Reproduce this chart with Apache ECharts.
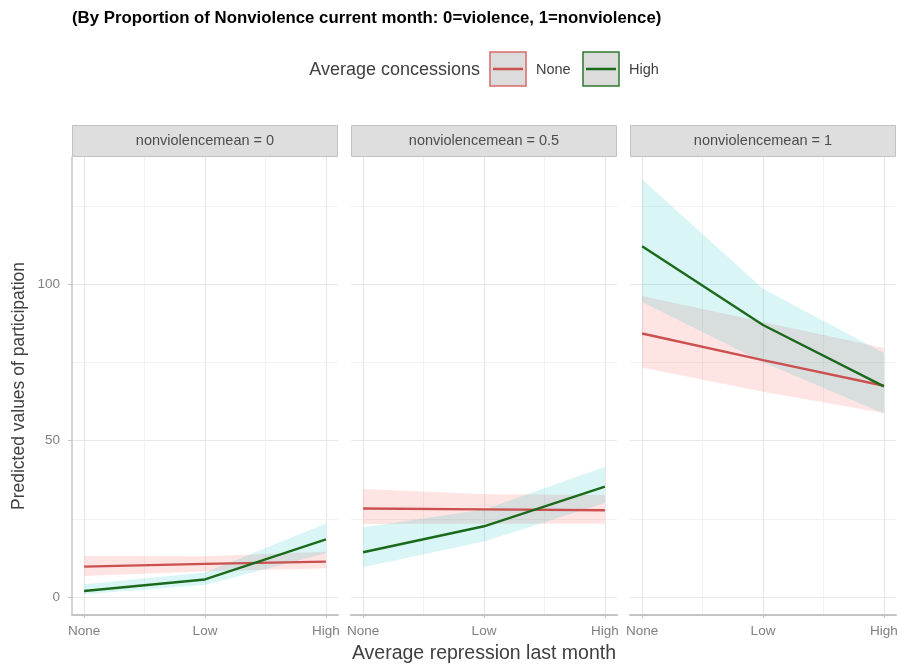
<!DOCTYPE html>
<html>
<head>
<meta charset="utf-8">
<script src="https://cdn.jsdelivr.net/npm/echarts@6/dist/echarts.min.js"></script>
<style>
html,body{margin:0;padding:0;background:#fff;}
#chart{width:901px;height:667px;}
</style>
</head>
<body>
<div id="chart"></div>
<script>
// ---- data ----
const categories = ['None', 'Low', 'High'];
const facets = ['nonviolencemean = 0', 'nonviolencemean = 0.5', 'nonviolencemean = 1'];
const legendLevels = ['None', 'High'];
const yTicks = [0, 50, 100];
const yMinorTicks = [25, 75, 125];
// concessions = None (per facet: values at None, Low, High repression)
const noneFit   = [[9.7, 10.6, 11.3], [28.3, 28.0, 27.7], [84.2, 75.7, 67.5]];
const noneLower = [[6.7, 8.2, 9.2],   [23.3, 23.4, 23.4], [73.3, 65.6, 58.8]];
const noneUpper = [[13.1, 13.0, 14.5],[34.5, 32.8, 32.6], [96.2, 87.9, 79.6]];
// concessions = High
const highFit   = [[1.9, 5.6, 18.4],  [14.3, 22.6, 35.3], [112.1, 86.9, 67.3]];
const highLower = [[0.9, 3.8, 14.0],  [9.5, 17.7, 30.0],  [94.3, 75.0, 58.6]];
const highUpper = [[4.1, 7.8, 23.5],  [22.3, 28.0, 41.6], [133.5, 98.5, 78.0]];

// ---- layout / style ----
const panelLeft = [72, 351, 630];
const panelWidth = 266;
const gridTop = 157;
const gridHeight = 458;
const redLine = '#CB5151';
const greenLine = '#1B6A1B';
const redFill = '#F8766D';
const cyanFill = '#00BFC4';
const FONT = '"Liberation Sans", Arial, sans-serif';
const xIdx = categories.map((c, i) => i);

const chart = echarts.init(document.getElementById('chart'));

function bandSeries(p, lo, hi, color, alpha) {
  return {
    type: 'custom', xAxisIndex: 2 * p, yAxisIndex: 2 * p, silent: true, z: 1,
    data: lo.map((v, i) => [xIdx[i], v, hi[i]]),
    encode: {x: 0, y: [1, 2]},
    renderItem: (params, api) => {
      if (params.dataIndex !== 0) return null;
      const pts = [];
      for (let i = 0; i < lo.length; i++) pts.push(api.coord([xIdx[i], hi[i]]));
      for (let i = lo.length - 1; i >= 0; i--) pts.push(api.coord([xIdx[i], lo[i]]));
      return {type: 'polygon', shape: {points: pts}, style: {fill: color, opacity: alpha}};
    }
  };
}

const grids = [], xAxes = [], yAxes = [], series = [];
facets.forEach((f, p) => {
  grids.push({left: panelLeft[p], top: gridTop, width: panelWidth, height: gridHeight, containLabel: false, outerBoundsMode: 'none'});
  xAxes.push({
    gridIndex: p, type: 'value', min: -0.1, max: 2.1, position: 'bottom',
    name: p === 1 ? 'Average repression last month' : '',
    nameLocation: 'middle', nameGap: 29,
    nameTextStyle: {fontSize: 19.5, color: '#404040', fontFamily: FONT},
    axisLine: {show: true, onZero: false, lineStyle: {color: '#c4c4c4', width: 2}},
    axisTick: {show: true, length: 3, customValues: xIdx, lineStyle: {color: '#c4c4c4'}},
    axisLabel: {customValues: xIdx, formatter: v => categories[Math.round(v)], color: '#808080', fontSize: 13.5, margin: 9, fontFamily: FONT},
    splitLine: {show: true, lineStyle: {color: '#e8e8e8', width: 1.2}}
  });
  xAxes.push({
    gridIndex: p, type: 'value', min: -0.1, max: 2.1, position: 'top',
    axisLine: {show: false}, axisLabel: {show: false},
    axisTick: {show: false, customValues: [0.5, 1.5]},
    splitLine: {show: true, lineStyle: {color: '#efefef', width: 0.8}}
  });
  yAxes.push({
    gridIndex: p, type: 'value', min: -5.75, max: 140.6, position: 'left',
    name: p === 0 ? 'Predicted values of participation' : '',
    nameLocation: 'middle', nameGap: 44, nameRotate: 90,
    nameTextStyle: {fontSize: 17.5, color: '#404040', fontFamily: FONT},
    axisLine: {show: p === 0, onZero: false, lineStyle: {color: '#c4c4c4', width: 1.5}},
    axisTick: {show: p === 0, length: 4, customValues: yTicks, lineStyle: {color: '#c4c4c4'}},
    axisLabel: {show: p === 0, customValues: yTicks, color: '#808080', fontSize: 13.5, margin: 12, fontFamily: FONT},
    splitLine: {show: true, lineStyle: {color: '#e8e8e8', width: 1.2}}
  });
  yAxes.push({
    gridIndex: p, type: 'value', min: -5.75, max: 140.6, position: 'right',
    axisLine: {show: false}, axisLabel: {show: false},
    axisTick: {show: false, customValues: yMinorTicks},
    splitLine: {show: true, lineStyle: {color: '#efefef', width: 0.8}}
  });

  series.push(bandSeries(p, noneLower[p], noneUpper[p], redFill, 0.2));
  series.push(bandSeries(p, highLower[p], highUpper[p], cyanFill, 0.15));
  series.push({
    name: legendLevels[0], type: 'line', xAxisIndex: 2 * p, yAxisIndex: 2 * p,
    data: noneFit[p].map((v, i) => [xIdx[i], v]),
    showSymbol: false, lineStyle: {color: redLine, width: 2.4}, z: 3
  });
  series.push({
    name: legendLevels[1], type: 'line', xAxisIndex: 2 * p, yAxisIndex: 2 * p,
    data: highFit[p].map((v, i) => [xIdx[i], v]),
    showSymbol: false, lineStyle: {color: greenLine, width: 2.4}, z: 3
  });
});

const graphics = [];
facets.forEach((f, p) => {
  graphics.push({
    type: 'rect', shape: {x: panelLeft[p] + 0.5, y: 125.5, width: panelWidth - 1, height: 31},
    style: {fill: '#dedede', stroke: '#c2c2c2', lineWidth: 1}, silent: true
  });
  graphics.push({
    type: 'text', x: panelLeft[p] + panelWidth / 2, y: 141,
    style: {text: f, fill: '#4d4d4d', font: '14.5px ' + FONT, align: 'center', verticalAlign: 'middle'}
  });
});
// legend
graphics.push({type: 'text', x: 480, y: 70, style: {text: 'Average concessions', fill: '#404040', font: '18px ' + FONT, align: 'right', verticalAlign: 'middle'}});
const legendX = [490, 583];
const legendColors = [[redLine, '#d76a6a'], [greenLine, '#2c7a2c']];
legendLevels.forEach((lv, k) => {
  graphics.push({type: 'rect', shape: {x: legendX[k], y: 52, width: 36, height: 34}, style: {fill: '#dcdcdc', stroke: legendColors[k][1], lineWidth: 1.5}});
  graphics.push({type: 'line', shape: {x1: legendX[k] + 3, y1: 69, x2: legendX[k] + 33, y2: 69}, style: {stroke: legendColors[k][0], lineWidth: 2.5}});
  graphics.push({type: 'text', x: legendX[k] + 46, y: 70, style: {text: lv, fill: '#404040', font: '14.5px ' + FONT, align: 'left', verticalAlign: 'middle'}});
});

chart.setOption({
  backgroundColor: '#ffffff',
  animation: false,
  title: {
    text: '(By Proportion of Nonviolence current month: 0=violence, 1=nonviolence)',
    left: 67, top: 5,
    textStyle: {fontSize: 16.8, fontWeight: 'bold', color: '#000', fontFamily: FONT}
  },
  grid: grids,
  xAxis: xAxes,
  yAxis: yAxes,
  series: series,
  graphic: graphics
});
</script>
</body>
</html>
